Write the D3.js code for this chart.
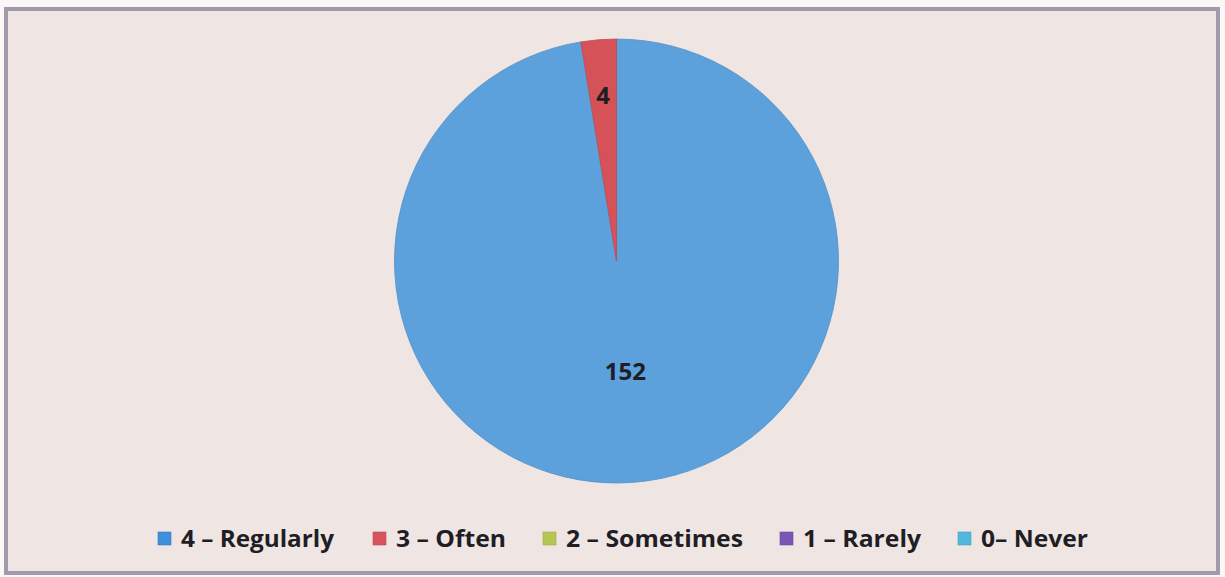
<!DOCTYPE html>
<html><head><meta charset="utf-8">
<script src="https://cdn.jsdelivr.net/npm/d3@7"></script>
<style>html,body{margin:0;padding:0;background:#fff;}</style>
</head><body>
<svg id="c" width="1225" height="577"></svg>
<script>
const categories = ["4 – Regularly", "3 – Often", "2 – Sometimes", "1 – Rarely", "0– Never"];
const values = [152, 4, 0, 0, 0];
const colors = ["#63acec", "#e4585f", "#a9c25a", "#7f5fb5", "#4fb8d8"];
const legendColors = ["#3f8fdc", "#d9535e", "#b5c552", "#7a55b5", "#4fb8dc"];

const svg = d3.select("#c");
const defs = svg.append("defs");
const fontFam = "'Open Sans','DejaVu Sans',sans-serif";

svg.append("rect").attr("x",0).attr("y",0).attr("width",1225).attr("height",577).attr("fill","#fbf7f6");
svg.append("rect").attr("x",6).attr("y",9).attr("width",1212).attr("height",564)
  .attr("fill","#efe6e4").attr("stroke","#a29aaa").attr("stroke-width",4);

const cx = 616.5, cy = 261, r = 222;
const data = categories.map((c,i)=>({cat:c, value:values[i], color:colors[i]}));
const pie = d3.pie().sort(null).value(d=>d.value);
const arcs = pie(data);
const arc = d3.arc().innerRadius(0).outerRadius(r);

data.forEach((d,i)=>{
  const g = defs.append("radialGradient").attr("id","g"+i)
    .attr("gradientUnits","userSpaceOnUse").attr("cx",cx).attr("cy",cy).attr("r",r);
  const c = d3.color(d.color);
  g.append("stop").attr("offset","0%").attr("stop-color",c.darker(0.05));
  g.append("stop").attr("offset","88%").attr("stop-color",c);
  g.append("stop").attr("offset","96%").attr("stop-color",c.brighter(0.15));
  g.append("stop").attr("offset","100%").attr("stop-color",c.darker(0.2));
});

const gp = svg.append("g").attr("transform",`translate(${cx},${cy})`);
gp.selectAll("path").data(arcs.filter(a=>a.data.value>0)).join("path")
  .attr("d",arc)
  .attr("fill",d=>`url(#g${data.indexOf(d.data)})`)
  .attr("stroke",d=>d3.color(d.data.color).darker(0.5))
  .attr("stroke-width",0.8);

gp.selectAll("text").data(arcs.filter(a=>a.data.value>0)).join("text")
  .attr("transform",d=>{
    const k = d.data.value>100 ? 0.5 : 0.75;
    const p = d3.arc().innerRadius(r*k).outerRadius(r*k).centroid(d);
    return `translate(${p[0]},${p[1]})`;
  })
  .attr("text-anchor","middle").attr("dy","0.36em")
  .attr("font-family",fontFam).attr("font-weight","bold").attr("font-size",24).attr("fill","#1e1e24")
  .text(d=>d.data.value);

// legend
const legX = [158, 373, 543, 780, 958];
const legW = [153, 110, 177, 118, 107];
const lg = svg.append("g");
categories.forEach((c,i)=>{
  lg.append("rect").attr("x",legX[i]).attr("y",532).attr("width",13).attr("height",13)
    .attr("fill",legendColors[i]).attr("stroke",d3.color(legendColors[i]).darker(0.4)).attr("stroke-width",0.6);
  lg.append("text").attr("x",legX[i]+23).attr("y",547)
    .attr("font-family",fontFam).attr("font-weight","bold").attr("font-size",24).attr("fill","#1e1e24")
    .attr("textLength",legW[i]).attr("lengthAdjust","spacingAndGlyphs")
    .text(c);
});
</script>
</body></html>
